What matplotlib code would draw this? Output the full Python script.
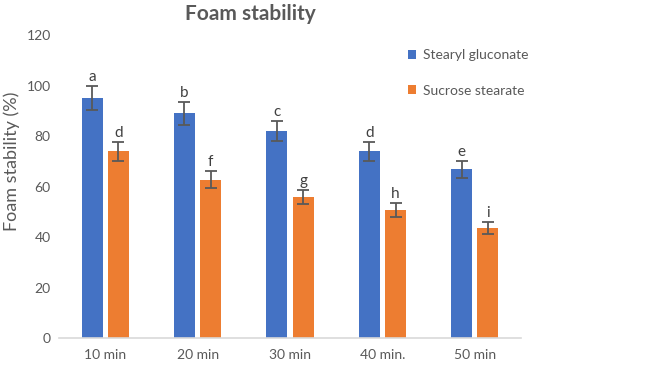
import matplotlib.pyplot as plt
import numpy as np

plt.rcParams['font.family'] = ['Lato', 'DejaVu Sans']

categories = ['10 min', '20 min', '30 min', '40 min.', '50 min']
stearyl = [95, 89, 82, 74, 66.8]
stearyl_err = [4.8, 4.5, 4.1, 3.7, 3.5]
stearyl_letters = ['a', 'b', 'c', 'd', 'e']
sucrose = [74, 62.8, 55.7, 50.7, 43.6]
sucrose_err = [3.8, 3.3, 2.8, 2.7, 2.3]
sucrose_letters = ['d', 'f', 'g', 'h', 'i']

grey = '#595959'
blue = '#4472C4'
orange = '#ED7D31'

fig = plt.figure(figsize=(6.48, 3.66), dpi=100)
ax = fig.add_axes([0.091, 0.0765, 0.713, 0.8275])

x = np.arange(len(categories))
w = 0.227
off = 0.142
err_kw = dict(ecolor=grey, elinewidth=1.3, capsize=4, capthick=1.3)
ax.bar(x - off, stearyl, w, yerr=stearyl_err, color=blue, label='Stearyl gluconate',
       error_kw=err_kw, zorder=2)
ax.bar(x + off, sucrose, w, yerr=sucrose_err, color=orange, label='Sucrose stearate',
       error_kw=err_kw, zorder=2)

for i in range(len(categories)):
    ax.text(x[i] - off, stearyl[i] + stearyl_err[i] + 0.8, stearyl_letters[i],
            ha='center', va='bottom', fontsize=11, color='#404040')
    ax.text(x[i] + off, sucrose[i] + sucrose_err[i] + 0.8, sucrose_letters[i],
            ha='center', va='bottom', fontsize=11, color='#404040')

ax.set_xlim(-0.5, len(categories) - 0.5)
ax.set_ylim(0, 120)
ax.set_yticks(range(0, 121, 20))
ax.set_xticks(x)
ax.set_xticklabels(categories)
ax.tick_params(axis='both', length=0, labelsize=10, labelcolor=grey)
ax.tick_params(axis='x', pad=8)
ax.tick_params(axis='y', pad=6)
for s in ['top', 'right', 'left']:
    ax.spines[s].set_visible(False)
ax.spines['bottom'].set_color('#D9D9D9')
ax.spines['bottom'].set_linewidth(1.2)

fig.text(0.018, 0.56, 'Foam stability (%)', rotation=90, ha='center', va='center',
         fontsize=13, color=grey)
fig.text(0.386, 0.963, 'Foam stability', ha='center', va='center',
         fontsize=15, fontweight='bold', color=grey)

ax.legend(loc='upper left', bbox_to_anchor=(0.61, 0.9), bbox_transform=fig.transFigure,
          frameon=False, fontsize=10, labelcolor=grey, handlelength=0.6,
          handleheight=0.6, handletextpad=0.5, labelspacing=1.7)

fig.savefig('out.png', dpi=100)
